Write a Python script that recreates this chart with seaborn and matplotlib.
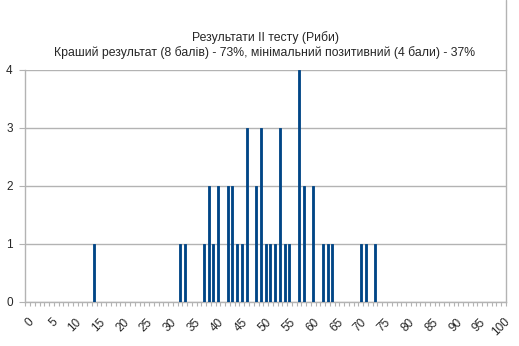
import numpy as np
import pandas as pd
import matplotlib
matplotlib.use("Agg")
import matplotlib.pyplot as plt
from matplotlib.lines import Line2D
import seaborn as sns

# results of the test: score (%) -> number of pupils
scores = [14, 32, 33, 37, 38, 39, 40, 42, 43, 44, 45, 46, 48, 49, 50,
          51, 52, 53, 54, 55, 57, 58, 60, 62, 63, 64, 70, 71, 73]
counts = [1, 1, 1, 1, 2, 1, 2, 2, 2, 1, 1, 3, 2, 3, 1,
          1, 1, 3, 1, 1, 4, 2, 2, 1, 1, 1, 1, 1, 1]
categories = list(range(0, 101))
x_labels = [str(v) for v in range(0, 101, 5)]
y_ticks = [0, 1, 2, 3, 4]

title = ("Результати II тесту (Риби)\n"
         "Краший результат (8 балів) - 73%, мінімальний позитивний (4 бали) - 37%")

BAR = "#004586"
GRID = "#b3b3b3"

df = (pd.Series(counts, index=scores)
        .reindex(categories, fill_value=0)
        .rename_axis("score").reset_index(name="n"))

sns.set_theme(style="white")
plt.rcParams["font.family"] = ["Liberation Sans", "DejaVu Sans"]

fig = plt.figure(figsize=(5.19, 3.46), dpi=100)
W, H = 519, 346
ax = fig.add_axes([25.3 / W, 1 - 302 / H, (506 - 25.3) / W, (302 - 70) / H])

sns.barplot(data=df, x="score", y="n", order=categories, color=BAR,
            saturation=1, width=0.42, edgecolor=BAR, linewidth=0.6,
            ax=ax, zorder=3)

ax.set_xlim(-0.5, 100.5)
ax.set_ylim(0, 4)
ax.set_xlabel("")
ax.set_ylabel("")

ax.set_yticks(y_ticks)
ax.set_yticklabels([str(v) for v in y_ticks], fontsize=8.5)
ax.yaxis.grid(True, color=GRID, linewidth=1, zorder=0)

ax.set_xticks(range(0, 101, 5))
ax.set_xticklabels(x_labels, fontsize=8.5, rotation=45, ha="right",
                   va="top", rotation_mode="anchor")
ax.set_xticks(np.arange(-0.5, 101, 1), minor=True)
ax.tick_params(axis="x", which="major", length=0, pad=10)
ax.tick_params(axis="x", which="minor", length=3, width=0.8,
               color=GRID, direction="out", bottom=True)
ax.tick_params(axis="y", length=4, width=0.8, color=GRID,
               direction="out", left=True, pad=5)

for side in ["left", "bottom", "right"]:
    ax.spines[side].set_visible(True)
    ax.spines[side].set_color(GRID)
    ax.spines[side].set_linewidth(1)
ax.spines["top"].set_visible(False)

# right border continues up to the top of the chart
fig.add_artist(Line2D([506 / W, 506 / W], [1 - 70 / H, 1.0],
                      color=GRID, linewidth=1, transform=fig.transFigure))

fig.text(265 / W, 1 - 45 / H, title, ha="center", va="center",
         fontsize=8.8, linespacing=1.25)

fig.savefig("out.png", dpi=100)
